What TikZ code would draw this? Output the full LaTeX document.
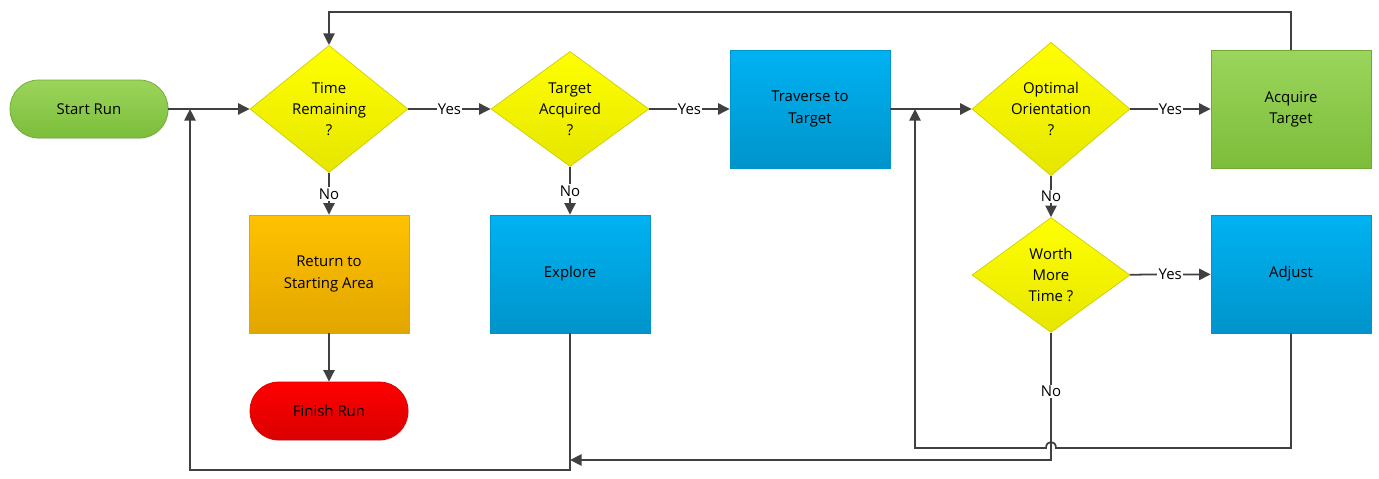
\documentclass[tikz,border=0pt]{standalone}
\usepackage{fontspec}
\setmainfont{Open Sans}
\usetikzlibrary{shapes.geometric,arrows.meta,shadows}

\definecolor{lineg}{HTML}{404040}
\definecolor{greenT}{HTML}{9BD55C}
\definecolor{greenB}{HTML}{7CBD3A}
\definecolor{yellT}{HTML}{FFFF00}
\definecolor{yellB}{HTML}{E6E600}
\definecolor{blueT}{HTML}{00B2F2}
\definecolor{blueB}{HTML}{0094CB}
\definecolor{oranT}{HTML}{FFC200}
\definecolor{oranB}{HTML}{E2A600}
\definecolor{redT}{HTML}{FF0000}
\definecolor{redB}{HTML}{DA0000}

\begin{document}
\begin{tikzpicture}[x=0.02cm,y=-0.02cm,
    font=\fontsize{8.5}{12}\selectfont,
    box/.style={rectangle,minimum width=3.2cm,minimum height=2.36cm,align=center,
        drop shadow={opacity=0.2,shadow xshift=0.5pt,shadow yshift=-0.5pt}},
    pill/.style={rectangle,rounded corners=0.57cm,minimum width=3.16cm,minimum height=1.16cm,
        align=center,drop shadow={opacity=0.2,shadow xshift=0.5pt,shadow yshift=-0.5pt}},
    ask/.style={diamond,inner sep=0pt,minimum width=3.16cm,minimum height=2.3cm,align=center,
        top color=yellT,bottom color=yellB,draw=yellB!90!black},
    flow/.style={draw=lineg,line width=1pt,-{Triangle[length=6.6pt,width=6.4pt]}},
    lab/.style={fill=white,inner sep=0.8pt,text=black}]

    \useasboundingbox (0,0) rectangle (1379,479);

    % top row
    \node[pill,top color=greenT,bottom color=greenB,draw=greenB!90!black] (start) at (89,109) {Start Run};
    \node[ask] (time) at (329,109) {Time\\Remaining\\?};
    \node[ask] (tacq) at (570,109) {Target\\Acquired\\?};
    \node[box,top color=blueT,bottom color=blueB,draw=blueB] (trav) at (810,109) {Traverse to\\Target};
    \node[ask] (opt) at (1051,109) {Optimal\\Orientation\\?};
    \node[box,top color=greenT,bottom color=greenB,draw=greenB!90!black] (acq) at (1291,109) {Acquire\\Target};

    % second row
    \node[box,top color=oranT,bottom color=oranB,draw=oranB] (ret) at (329,274) {Return to\\Starting Area};
    \node[box,top color=blueT,bottom color=blueB,draw=blueB] (explore) at (570,274) {Explore};
    \node[ask] (worth) at (1051,275) {Worth\\More\\Time ?};
    \node[box,top color=blueT,bottom color=blueB,draw=blueB] (adjust) at (1291,274) {Adjust};

    \node[pill,top color=redT,bottom color=redB,draw=redB] (finish) at (329,411) {Finish Run};

    % loop points
    \coordinate (topline) at (329,12);
    \coordinate (loopL) at (190,470);
    \coordinate (joinA) at (190,109);
    \coordinate (noW) at (1051,460);
    \coordinate (noE) at (570,460);
    \coordinate (hopR) at (1056,448);
    \coordinate (hopL) at (1046,448);
    \coordinate (adjL) at (915,448);
    \coordinate (joinB) at (915,109);

    \draw[flow] (start) -- (time);
    \draw[flow] (time) -- node[lab]{Yes} (tacq);
    \draw[flow] (tacq) -- node[lab]{Yes} (trav);
    \draw[flow] (trav) -- (opt);
    \draw[flow] (opt) -- node[lab]{Yes} (acq);
    \draw[flow] (time) -- node[lab]{No} (ret);
    \draw[flow] (tacq) -- node[lab]{No} (explore);
    \draw[flow] (opt) -- node[lab]{No} (worth);
    \draw[flow] (worth) -- node[lab]{Yes} (adjust);
    \draw[flow] (ret) -- (finish);

    \draw[flow] (acq.north) |- (topline) -- (time.north);
    \draw[flow] (explore.south) |- (loopL) -- (joinA);
    \draw[flow] (worth.south) -- node[lab,pos=0.46]{No} (noW) -- (noE);
    \draw[flow] (adjust.south) |- (hopR) .. controls +(0,-8) and +(0,-8) .. (hopL) -- (adjL) -- (joinB);
\end{tikzpicture}
\end{document}
